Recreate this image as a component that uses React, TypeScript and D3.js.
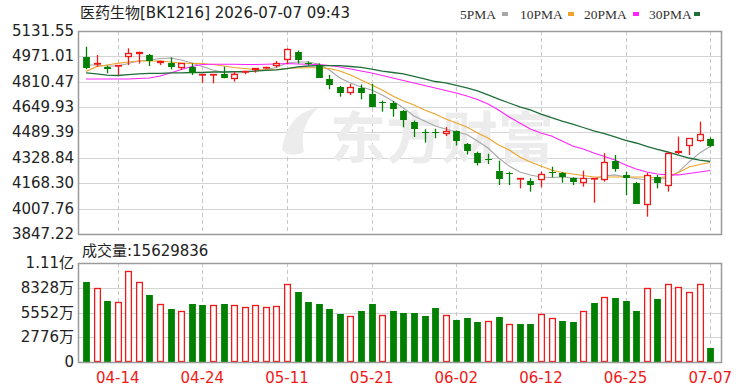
import React from 'react'
import * as d3 from 'd3'

// trading days shown (60 sessions)
const dates = [
  '04-09', '04-10', '04-13', '04-14', '04-15', '04-16', '04-17', '04-20', '04-21', '04-22',
  '04-23', '04-24', '04-27', '04-28', '04-29', '04-30', '05-06', '05-07', '05-08', '05-11',
  '05-12', '05-13', '05-14', '05-15', '05-18', '05-19', '05-20', '05-21', '05-22', '05-25',
  '05-26', '05-27', '05-28', '05-29', '06-01', '06-02', '06-03', '06-04', '06-05', '06-08',
  '06-09', '06-10', '06-11', '06-12', '06-15', '06-16', '06-17', '06-18', '06-22', '06-23',
  '06-24', '06-25', '06-26', '06-29', '06-30', '07-01', '07-02', '07-03', '07-06', '07-07',
]

const opens = [
  4965, 4920, 4906, 4910, 4969, 4986, 4980, 4931, 4931, 4896,
  4906, 4851, 4853, 4860, 4826, 4874, 4887, 4896, 4910, 4946,
  5001, 4929, 4916, 4826, 4775, 4741, 4769, 4733, 4681, 4678,
  4625, 4558, 4493, 4491, 4477, 4496, 4417, 4358, 4322, 4248,
  4231, 4195, 4184, 4189, 4238, 4233, 4200, 4172, 4194, 4189,
  4309, 4221, 4172, 4031, 4210, 4151, 4358, 4404, 4438, 4446,
]
const highs = [
  5032, 4980, 4913, 4916, 5022, 5001, 4986, 4944, 4965, 4927,
  4927, 4858, 4860, 4906, 4874, 4880, 4896, 4906, 4942, 5021,
  5008, 4939, 4927, 4854, 4784, 4796, 4793, 4796, 4691, 4689,
  4632, 4565, 4510, 4513, 4524, 4502, 4423, 4368, 4355, 4311,
  4241, 4200, 4200, 4241, 4273, 4240, 4205, 4248, 4200, 4358,
  4347, 4241, 4176, 4235, 4221, 4362, 4464, 4453, 4558, 4458,
]
const lows = [
  4889, 4906, 4864, 4853, 4916, 4925, 4910, 4916, 4889, 4885,
  4853, 4805, 4801, 4832, 4811, 4858, 4868, 4891, 4899, 4921,
  4925, 4916, 4834, 4763, 4716, 4727, 4699, 4649, 4621, 4589,
  4522, 4461, 4426, 4453, 4467, 4407, 4350, 4281, 4290, 4157,
  4157, 4136, 4115, 4143, 4206, 4172, 4157, 4147, 4045, 4178,
  4241, 4094, 4037, 3957, 4136, 4115, 4353, 4347, 4431, 4396,
]
const closes = [
  4896, 4931, 4889, 4916, 4994, 5001, 4940, 4944, 4906, 4927,
  4864, 4858, 4860, 4836, 4860, 4880, 4896, 4904, 4931, 5016,
  4948, 4925, 4836, 4790, 4741, 4775, 4737, 4653, 4676, 4636,
  4569, 4513, 4488, 4486, 4499, 4434, 4374, 4296, 4315, 4197,
  4225, 4200, 4157, 4227, 4233, 4208, 4178, 4201, 4199, 4305,
  4257, 4202, 4037, 4221, 4172, 4362, 4372, 4453, 4480, 4404,
]
// volume in 万
const volumes = [
  8939, 8266, 6876, 6696, 10207, 8939, 7481, 6505, 5911, 5754,
  6539, 6393, 6360, 6539, 6360, 6203, 6360, 6203, 6315, 8749,
  7851, 6730, 6539, 5911, 5417, 5126, 5754, 6539, 5272, 5754,
  5462, 5462, 5160, 6057, 5272, 4677, 4969, 4486, 4632, 5081,
  4262, 4262, 4262, 5417, 4935, 4632, 4486, 5754, 6584, 7324,
  7178, 6876, 5754, 8266, 7032, 8749, 8446, 7818, 8749, 1563,
]

const ma5 = [
  4916, 4916, 4910, 4910, 4926, 4942, 4948, 4958, 4961, 4948,
  4929, 4907, 4885, 4869, 4866, 4869, 4878, 4888, 4901, 4929,
  4935, 4935, 4923, 4885, 4834, 4803, 4777, 4758, 4727, 4689,
  4644, 4594, 4562, 4531, 4512, 4493, 4477, 4436, 4391, 4328,
  4277, 4239, 4221, 4208, 4205, 4208, 4202, 4198, 4198, 4214,
  4221, 4208, 4198, 4189, 4192, 4202, 4239, 4303, 4360, 4401,
]
const ma10 = [
  4875, 4906, 4916, 4927, 4935, 4942, 4942, 4942, 4935, 4929,
  4927, 4926, 4920, 4910, 4901, 4894, 4888, 4885, 4888, 4894,
  4897, 4899, 4899, 4894, 4878, 4853, 4822, 4790, 4758, 4720,
  4689, 4663, 4632, 4606, 4575, 4549, 4524, 4486, 4455, 4410,
  4379, 4334, 4303, 4277, 4252, 4236, 4227, 4217, 4208, 4208,
  4208, 4208, 4208, 4208, 4202, 4211, 4236, 4271, 4287, 4300,
]
const ma20 = [
  4828, 4828, 4828, 4828, 4828, 4831, 4834, 4847, 4866, 4888,
  4907, 4920, 4921, 4921, 4921, 4920, 4920, 4921, 4923, 4926,
  4923, 4921, 4920, 4913, 4904, 4891, 4878, 4866, 4850, 4834,
  4818, 4803, 4787, 4771, 4755, 4739, 4720, 4698, 4670, 4632,
  4587, 4549, 4512, 4486, 4467, 4436, 4404, 4385, 4360, 4338,
  4315, 4284, 4258, 4239, 4227, 4221, 4221, 4230, 4239, 4249,
]
const ma30 = [
  4866, 4860, 4853, 4850, 4856, 4860, 4863, 4863, 4866, 4866,
  4869, 4869, 4872, 4872, 4875, 4875, 4878, 4882, 4885, 4894,
  4904, 4910, 4913, 4913, 4913, 4907, 4901, 4891, 4878, 4869,
  4860, 4844, 4828, 4812, 4803, 4787, 4771, 4752, 4727, 4701,
  4676, 4651, 4632, 4606, 4584, 4562, 4543, 4521, 4499, 4483,
  4461, 4439, 4423, 4401, 4382, 4366, 4347, 4328, 4315, 4306,
]

const priceTicks = [3847.22, 4007.76, 4168.30, 4328.84, 4489.39, 4649.93, 4810.47, 4971.01, 5131.55]
const volTicks = [0, 2776, 5552, 8328, 11104]
const volTickLabels = ['0', '2776万', '5552万', '8328万', '1.11亿']
const xTickLabels = ['04-14', '04-24', '05-11', '05-21', '06-02', '06-12', '06-25', '07-07']

const maSeries = [
  { name: '5PMA', values: ma5, color: '#a6a6a6' },
  { name: '10PMA', values: ma10, color: '#f0a32a' },
  { name: '20PMA', values: ma20, color: '#ff22ff' },
  { name: '30PMA', values: ma30, color: '#1f6e3a' },
]

const RED = '#f21818'
const GREEN = '#007f00'
const FONT = "'DejaVu Sans', 'Noto Sans CJK SC', sans-serif"

const App = () => {
  const W = 750
  const H = 391
  const left = 78
  const right = 721
  const pTop = 31
  const pBot = 234
  const vTop = 263
  const vBot = 362

  const x = d3.scalePoint<string>().domain(dates).range([86, 710.2])
  const bw = x.step() * 0.64
  const y = d3.scaleLinear().domain([3847.22, 5131.55]).range([pBot, pTop])
  const yv = d3.scaleLinear().domain([0, 11104]).range([vBot, vTop])

  const px = (d: string) => Math.round(x(d) as number) + 0.5

  const line = d3.line<number>()
    .x((_, i) => x(dates[i]) as number)
    .y(d => y(d))

  const legendX = [460, 520, 584, 649]
  const swatchX = [502, 568, 633, 694]

  return (
    <svg width={W} height={H} style={{ position: 'absolute', left: 0, top: 0, background: '#fff' }}
      fontFamily={FONT}>
      <rect x={0} y={0} width={W} height={H} fill="#fff" />

      {/* title */}
      <text x={80} y={13} dominantBaseline="central" fontSize={15} fill="#222">
        医药生物[BK1216] 2026-07-07 09:43
      </text>

      {/* legend */}
      {maSeries.map((s, i) => (
        <g key={s.name}>
          <text x={legendX[i]} y={14} dominantBaseline="central" fontSize={13.5}
            fontFamily="'Liberation Serif', serif" fill="#333">{s.name}</text>
          <rect x={swatchX[i]} y={12} width={6} height={4} fill={s.color} />
        </g>
      ))}

      {/* price grid */}
      {priceTicks.map(t => (
        <line key={t} x1={left} x2={right} y1={Math.round(y(t)) + 0.5} y2={Math.round(y(t)) + 0.5}
          stroke="#d4d4d4" />
      ))}
      {volTicks.map(t => (
        <line key={t} x1={left} x2={right} y1={Math.round(yv(t)) + 0.5} y2={Math.round(yv(t)) + 0.5}
          stroke="#d4d4d4" />
      ))}
      {xTickLabels.map(d => (
        <g key={d}>
          <line x1={px(d)} x2={px(d)} y1={pTop} y2={pBot} stroke="#c8c8c8" strokeDasharray="4,3" />
          <line x1={px(d)} x2={px(d)} y1={vTop} y2={vBot} stroke="#c8c8c8" strokeDasharray="4,3" />
          <text x={x(d)} y={378} textAnchor="middle" dominantBaseline="central" fontSize={15}
            fill={RED}>{d}</text>
        </g>
      ))}

      {/* watermark */}
      <text x={330} y={133} dominantBaseline="central" fontSize={56} fontWeight="bold"
        fill="#ececec" fontFamily="'Noto Sans CJK SC', sans-serif">东方财富</text>
      <path d="M 282 150 C 285 125, 300 110, 318 108 C 305 120, 300 135, 304 152 C 296 156, 288 156, 282 150 Z"
        fill="#ececec" />

      {/* y labels */}
      {priceTicks.map(t => (
        <text key={t} x={74} y={y(t)} textAnchor="end" dominantBaseline="central" fontSize={15}
          fill="#222">{t.toFixed(2)}</text>
      ))}
      {volTicks.map((t, i) => (
        <text key={t} x={74} y={yv(t)} textAnchor="end" dominantBaseline="central" fontSize={15}
          fill="#222">{volTickLabels[i]}</text>
      ))}

      <text x={82} y={251} dominantBaseline="central" fontSize={15} fill="#222">
        成交量:15629836
      </text>

      {/* MA lines */}
      {maSeries.map(s => (
        <path key={s.name} d={line(s.values) as string} fill="none" stroke={s.color}
          strokeWidth={s.name === '30PMA' ? 1.3 : 1.1} />
      ))}

      {/* candles */}
      {dates.map((d, i) => {
        const up = closes[i] >= opens[i]
        const c = up ? RED : GREEN
        const cx = px(d)
        const top = Math.round(y(Math.max(opens[i], closes[i])))
        const bot = Math.round(y(Math.min(opens[i], closes[i])))
        const h = Math.max(bot - top, 1)
        return (
          <g key={d}>
            <line x1={cx} x2={cx} y1={y(highs[i])} y2={y(lows[i])} stroke={c} strokeWidth={1.3} />
            {up ? (
              <rect x={cx - bw / 2 + 0.5} y={top + 0.5} width={bw - 1} height={Math.max(h - 1, 0.5)}
                fill="#fff" stroke={c} strokeWidth={1.3} />
            ) : (
              <rect x={cx - bw / 2} y={top} width={bw} height={h} fill={c} />
            )}
          </g>
        )
      })}

      {/* volume bars: colour from close vs previous close */}
      {dates.map((d, i) => {
        const up = i === 0 ? closes[i] >= opens[i] : closes[i] >= closes[i - 1]
        const c = up ? RED : GREEN
        const cx = px(d)
        const top = Math.round(yv(volumes[i]))
        return up ? (
          <rect key={d} x={cx - bw / 2 + 0.5} y={top + 0.5} width={bw - 1} height={vBot - top - 1}
            fill="#fff" stroke={c} strokeWidth={1.3} />
        ) : (
          <rect key={d} x={cx - bw / 2} y={top} width={bw} height={vBot - top} fill={c} />
        )
      })}

      {/* frames */}
      <rect x={left + 0.5} y={pTop + 0.5} width={right - left} height={pBot - pTop} fill="none"
        stroke="#9a9a9a" strokeWidth={1.5} />
      <rect x={left + 0.5} y={vTop + 0.5} width={right - left} height={vBot - vTop} fill="none"
        stroke="#9a9a9a" strokeWidth={1.5} />
    </svg>
  )
}

export default App
